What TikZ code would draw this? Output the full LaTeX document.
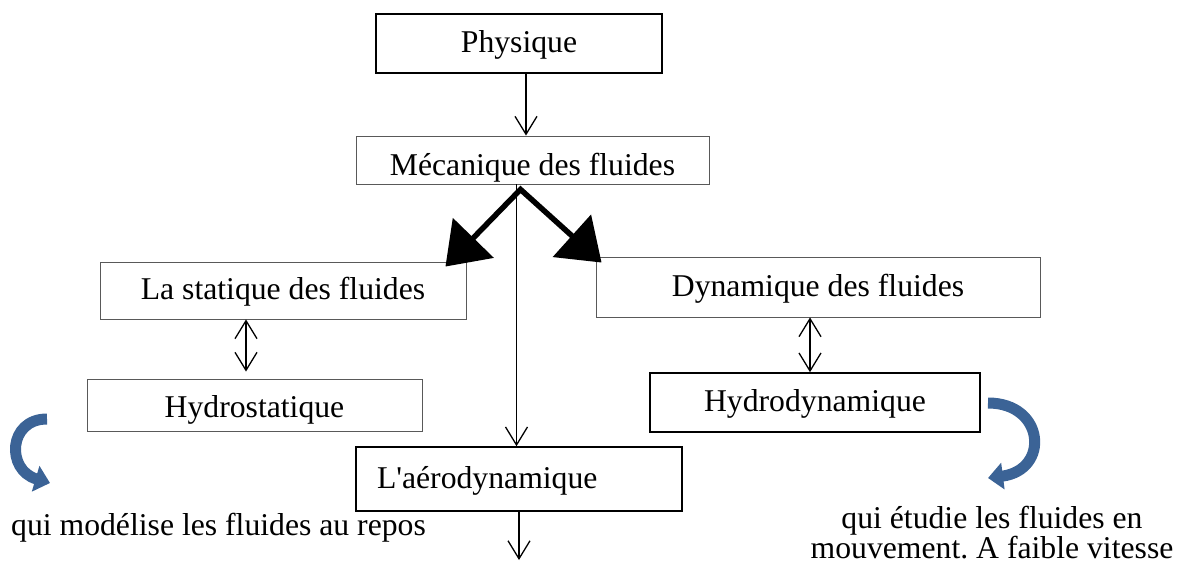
\documentclass[tikz,border=0pt]{standalone}
\usepackage{fontspec}
\setmainfont{Liberation Serif}[Ligatures=TeXOff]
\usetikzlibrary{arrows.meta}
\definecolor{flecheblue}{HTML}{3B6396}
\tikzset{
	box/.style={
		draw = gray!70!black,
		line width = 0.9pt,
		shape = rectangle,
		inner sep = 0pt,
		text height = 21pt,
		text depth = 3pt
	},
	boldbox/.style={
		box,
		draw = black,
		line width = 1.6pt
	},
	big/.style={
		line width = 5.5pt,
		line join = miter,
		{Triangle[length=40pt,width=56pt]}-{Triangle[length=40pt,width=56pt]}
	},
	curl/.style={
		draw = flecheblue,
		line width = 11pt,
		-{Triangle[length=15pt,width=26pt]}
	},
}
\tikzset{>={Straight Barb[length=18pt,width=22pt]}}

\begin{document}
\frenchspacing
\begin{tikzpicture}[x=1pt, y=-1pt, line width=1.3pt, font=\fontsize{31.7}{30}\selectfont]
    \useasboundingbox (0,0) rectangle (1180,569);
    % boxes
    \node[boldbox, minimum width=286pt, minimum height=59pt] (phys) at (519,43.5) {Physique};
    \node[box, minimum width=353pt, minimum height=48pt, text height=35pt] (meca) at (532.5,160) {Mécanique des fluides};
    \node[box, minimum width=366pt, minimum height=57pt] (stat) at (283,290.5) {La statique des fluides};
    \node[box, minimum width=444pt, minimum height=60pt] (dyna) at (818,287) {Dynamique des fluides};
    \node[box, minimum width=335pt, minimum height=52pt, text height=27pt] (hydros) at (254.5,405) {Hydrostatique};
    \node[boldbox, minimum width=330pt, minimum height=59pt] (hydrod) at (815,402.5) {Hydrodynamique};
    \node[boldbox, minimum width=326pt, minimum height=64pt, text width=284pt, align=left] (aero) at (519,479) {L'aérodynamique};
    \node[anchor=base] (repos) at (218.5,535) {qui modélise les fluides au repos};
    \node[anchor=base, align=center] (vitesse) at (992,558) {qui étudie les fluides en\\mouvement. A faible vitesse};
    \coordinate (aeroout) at (519,560);

    % arrows
    \draw[->] ([xshift=7pt]phys.south) -- ([xshift=7pt]phys.south |- meca.north);
    \draw[big] ([xshift=-21pt,yshift=-5pt]stat.north east) -- ([xshift=-12pt,yshift=-5pt]meca.south)
        -- ([xshift=6pt,yshift=-6pt]dyna.north west);
    \draw[->] ([xshift=-16pt]meca.south) -- ([xshift=-16pt]meca.south |- aero.north);
    \draw[<->, shorten >=7pt] ([xshift=-37pt]stat.south) -- ([xshift=-37pt]stat.south |- hydros.north);
    \draw[<->] ([xshift=-8pt]dyna.south) -- ([xshift=-8pt]dyna.south |- hydrod.north);
    \draw[->] (aero.south) -- (aeroout);

    % blue curls
    \draw[curl] (47,419) .. controls (8,419) and (6,470) .. (50,483);
    \draw[curl] (988,403) .. controls (1045,403) and (1050,470) .. (988,478);
\end{tikzpicture}
\end{document}
